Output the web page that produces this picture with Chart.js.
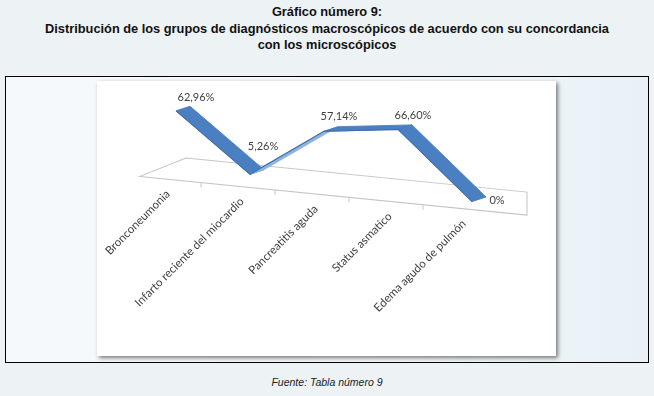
<!DOCTYPE html>
<html>
<head>
<meta charset="utf-8">
<script src="https://cdn.jsdelivr.net/npm/chart.js@4.4.1/dist/chart.umd.min.js"></script>
<style>
    body {
        margin: 0;
        width: 654px;
        height: 396px;
        background: #edf2f5;
        position: relative;
        overflow: hidden;
        font-family: 'Liberation Sans', Arial, sans-serif;
    }
    .titulo {
        position: absolute;
        left: 0;
        top: 4px;
        width: 654px;
        text-align: center;
        font-family: 'Liberation Sans Narrow', 'Liberation Sans', Arial, sans-serif;
        font-weight: bold;
        font-size: 12.8px;
        line-height: 16.5px;
        color: #111;
    }
    .marco {
        position: absolute;
        left: 5px;
        top: 76px;
        width: 642px;
        height: 285px;
        border: 1px solid #000;
        background: linear-gradient(to right, #f6f9fb 0%, #f3f7fa 60%, #e9f1f6 100%);
    }
    .panel {
        position: absolute;
        left: 97px;
        top: 81px;
        width: 459px;
        height: 275px;
        background: #fff;
        box-shadow: 2px 2px 4px rgba(0, 0, 0, 0.5);
    }
    .fuente {
        position: absolute;
        left: 0;
        top: 376px;
        width: 654px;
        text-align: center;
        font-style: italic;
        font-size: 10.5px;
        color: #222;
    }
</style>
</head>
<body>
<div class="titulo">Gráfico número 9:<br>Distribución de los grupos de diagnósticos macroscópicos de acuerdo con su concordancia<br>con los microscópicos</div>
<div class="marco"></div>
<div class="panel"><canvas id="grafico" width="459" height="275"></canvas></div>
<div class="fuente">Fuente: Tabla número 9</div>

<script>
// Datos del gráfico
const categorias = ['Bronconeumonia', 'Infarto reciente del miocardio', 'Pancreatitis aguda', 'Status asmatico', 'Edema agudo de pulmón'];
const porcentajes = [62.96, 5.26, 57.14, 66.60, 0];
const etiquetas = ['62,96%', '5,26%', '57,14%', '66,60%', '0%'];

// Falso 3D: inclinación del piso y profundidad de la cinta
const SESGO = 0.1;
const PROF = { x: 14, y: -6 };

// Aplica la misma inclinación a un punto (para textos sin deformar)
function sesgar(chart, x, y) {
    const x0 = chart.scales.x.getPixelForValue(0);
    return { x: x, y: y + SESGO * (x - x0) };
}

const efecto3d = {
    id: 'efecto3d',
    beforeDatasetsDraw(chart) {
        const ctx = chart.ctx;
        const area = chart.chartArea;
        const sx = chart.scales.x;
        const sy = chart.scales.y;
        const x0 = sx.getPixelForValue(0);

        ctx.save();
        ctx.transform(1, SESGO, 0, 1, 0, -SESGO * x0);

        // Piso
        const y0 = sy.getPixelForValue(0);
        const frente = y0 + 8;
        const fondo = y0 - 15;
        ctx.strokeStyle = '#c4c4c4';
        ctx.lineWidth = 1;
        ctx.beginPath();
        ctx.moveTo(area.left + 1, frente);
        ctx.lineTo(area.right + 18, frente);
        ctx.lineTo(area.right + 18, fondo);
        ctx.lineTo(area.left + 47, fondo);
        ctx.closePath();
        // marcas entre categorías
        for (let i = 0; i < categorias.length - 1; i++) {
            const xm = (sx.getPixelForValue(i) + sx.getPixelForValue(i + 1)) / 2 - 12;
            ctx.moveTo(xm, frente);
            ctx.lineTo(xm, frente + 5);
        }
        ctx.stroke();

        // Cinta
        const pts = chart.getDatasetMeta(0).data;
        for (let i = 0; i < pts.length - 1; i++) {
            const a = pts[i], b = pts[i + 1];
            const cruz = (b.x - a.x) * PROF.y - (b.y - a.y) * PROF.x;
            ctx.fillStyle = cruz > 0 ? '#8fb3de' : '#4a80c2';
            ctx.strokeStyle = cruz > 0 ? '#8fb3de' : '#4477b5';
            ctx.lineWidth = 0.8;
            ctx.beginPath();
            ctx.moveTo(a.x, a.y);
            ctx.lineTo(b.x, b.y);
            ctx.lineTo(b.x + PROF.x, b.y + PROF.y);
            ctx.lineTo(a.x + PROF.x, a.y + PROF.y);
            ctx.closePath();
            ctx.fill();
            ctx.stroke();
        }
    },
    afterDatasetsDraw(chart) {
        const ctx = chart.ctx;
        ctx.restore();

        const sx = chart.scales.x;
        const sy = chart.scales.y;
        const y0 = sy.getPixelForValue(0);
        const pts = chart.getDatasetMeta(0).data;

        ctx.save();
        ctx.fillStyle = '#404040';

        // Etiquetas de valor: encima de la cinta, más arriba en los mínimos, a la derecha al final
        ctx.font = '11px Lato, "Open Sans", sans-serif';
        ctx.textAlign = 'center';
        ctx.textBaseline = 'middle';
        pts.forEach((p, i) => {
            let dx = 15, dy = -16;
            if (i === 0) {
                dx = 20; dy = -15;
            } else if (i === pts.length - 1) {
                dx = 25; dy = -4;
            } else if (porcentajes[i] < porcentajes[i - 1] && porcentajes[i] < porcentajes[i + 1]) {
                dx = 13; dy = -29;
            }
            const q = sesgar(chart, p.x + dx, p.y + dy);
            ctx.fillText(etiquetas[i], q.x, q.y);
        });

        // Etiquetas de categoría (rotadas 45°)
        ctx.font = '11.5px Lato, "Open Sans", sans-serif';
        ctx.textAlign = 'right';
        categorias.forEach((c, i) => {
            const q = sesgar(chart, sx.getPixelForValue(i) - 8, y0 + 21);
            ctx.save();
            ctx.translate(q.x, q.y);
            ctx.rotate(-Math.PI / 4);
            ctx.fillText(c, 0, 0);
            ctx.restore();
        });
        ctx.restore();
    }
};

const ctxGrafico = document.getElementById('grafico').getContext('2d');
new Chart(ctxGrafico, {
    type: 'line',
    data: {
        labels: categorias,
        datasets: [{
            label: 'Concordancia',
            data: porcentajes,
            borderColor: '#3d6eab',
            borderWidth: 1,
            pointRadius: 0,
            tension: 0,
            clip: false,
        }],
    },
    options: {
        responsive: false,
        animation: false,
        layout: {
            padding: { left: 42, right: 47, top: 23, bottom: 184 },
        },
        plugins: {
            legend: { display: false },
            tooltip: { enabled: false },
        },
        scales: {
            x: { display: false, offset: true },
            y: { display: false, min: 0, max: 70 },
        },
    },
    plugins: [efecto3d],
});
</script>
</body>
</html>
